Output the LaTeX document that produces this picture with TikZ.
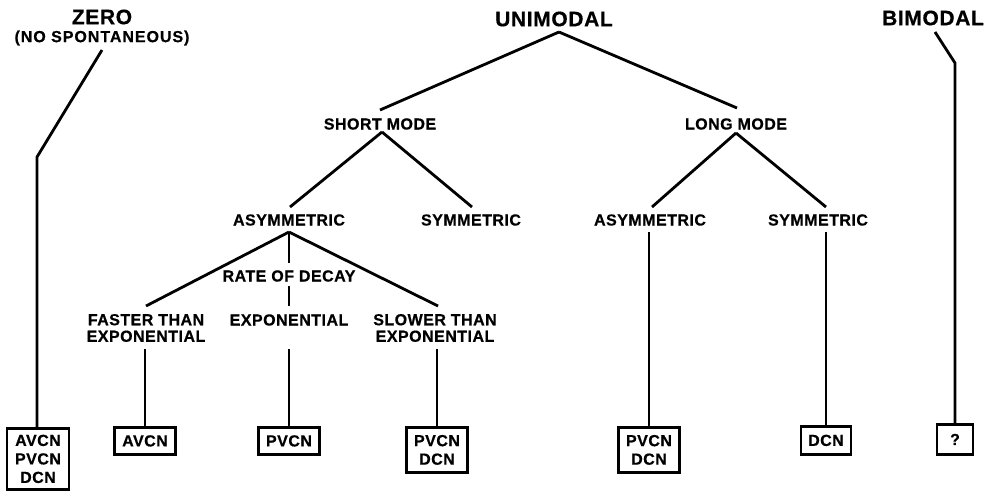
\documentclass[tikz,border=0pt]{standalone}
\usepackage{fontspec}
\newfontfamily\lblfont{Liberation Sans}[LetterSpace=3,FakeBold=0.6]
\newfontfamily\widefont{Liberation Sans}[LetterSpace=6,FakeBold=0.6]
\tikzset{
  bigtitle/.style={font=\lblfont\bfseries\fontsize{21}{24}\selectfont, inner sep=0pt},
  lab/.style={font=\lblfont\bfseries\fontsize{16}{16.5}\selectfont, inner sep=0pt, align=center},
  widelab/.style={font=\widefont\bfseries\fontsize{16}{16.5}\selectfont, inner sep=0pt, align=center},
  res/.style={draw, line width=2.8pt, font=\lblfont\bfseries\fontsize{16}{18.5}\selectfont,
              align=center, anchor=north, inner sep=0pt},
  wire/.style={line width=2.8pt}
}
\begin{document}
\begin{tikzpicture}[x=1pt,y=-1pt]
\useasboundingbox (0,0) rectangle (995,490);
% titles
\node[bigtitle] (zero) at (102,17) {ZERO};
\node[widelab] (nospont) at (102,38) {(NO SPONTANEOUS)};
\node[bigtitle] (uni) at (554,19) {UNIMODAL};
\node[bigtitle] (bi) at (933,18) {BIMODAL};
% labels
\node[lab] (short) at (380,124) {SHORT MODE};
\node[lab] (long) at (736,124) {LONG MODE};
\node[lab] (asymL) at (289,220) {ASYMMETRIC};
\node[lab] (symL) at (471,220) {SYMMETRIC};
\node[lab] (asymR) at (650,220) {ASYMMETRIC};
\node[lab] (symR) at (818,220) {SYMMETRIC};
\node[lab] (rate) at (289,276) {RATE OF DECAY};
\node[lab] (faster) at (146,328) {FASTER THAN\\EXPONENTIAL};
\node[lab] (expo) at (289,320) {EXPONENTIAL};
\node[lab] (slower) at (435,328) {SLOWER THAN\\EXPONENTIAL};
% result boxes
\node[res, minimum width=62pt, minimum height=61pt] (bZero) at (38,427) {AVCN\\PVCN\\DCN};
\node[res, minimum width=61pt, minimum height=27pt] (bFast) at (145,426) {AVCN};
\node[res, minimum width=61pt, minimum height=27pt] (bExp) at (289,426) {PVCN};
\node[res, minimum width=61pt, minimum height=45pt] (bSlow) at (437,426) {PVCN\\DCN};
\node[res, minimum width=61pt, minimum height=45pt] (bAsymR) at (649,426) {PVCN\\DCN};
\node[res, minimum width=50pt, minimum height=28pt] (bSymR) at (826,425) {DCN};
\node[res, minimum width=36pt, minimum height=30pt] (bBi) at (955,423) {?};
% connector points
\coordinate (z1) at (102,50);
\coordinate (z2) at (37,157);
\coordinate (uA) at (559,32);
\coordinate (sT) at (380,110);
\coordinate (lT) at (737,108);
\coordinate (sA) at (382,132);
\coordinate (aLT) at (290,207);
\coordinate (sLT) at (472,207);
\coordinate (lA) at (736,133);
\coordinate (aRT) at (652,207);
\coordinate (sRT) at (826,207);
\coordinate (aLA) at (289,232);
\coordinate (fT) at (146,306);
\coordinate (rT) at (289,263);
\coordinate (rB) at (289,286);
\coordinate (eT) at (289,306);
\coordinate (slT) at (438,306);
\coordinate (fB) at (145,349);
\coordinate (eB) at (289,349);
\coordinate (slB) at (437,349);
\coordinate (aRB) at (649,232);
\coordinate (sRB) at (826,232);
\coordinate (b1) at (935,32);
\coordinate (b2) at (955,63);
% connectors
\draw[wire] (z1) -- (z2) -- (z2 |- bZero.north);
\draw[wire] (uA) -- (sT);
\draw[wire] (uA) -- (lT);
\draw[wire] (sA) -- (aLT);
\draw[wire] (sA) -- (sLT);
\draw[wire] (lA) -- (aRT);
\draw[wire] (lA) -- (sRT);
\draw[wire] (aLA) -- (fT);
\draw[wire] (aLA) -- (rT);
\draw[wire] (rB) -- (eT);
\draw[wire] (aLA) -- (slT);
\draw[wire] (fB) -- (bFast.north);
\draw[wire] (eB) -- (bExp.north);
\draw[wire] (slB) -- (bSlow.north);
\draw[wire] (aRB) -- (bAsymR.north);
\draw[wire] (sRB) -- (bSymR.north);
\draw[wire] (b1) -- (b2) -- (b2 |- bBi.north);
\end{tikzpicture}
\end{document}
